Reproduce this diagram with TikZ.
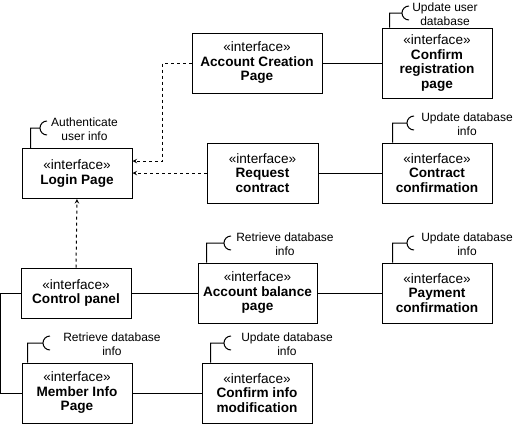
\documentclass[tikz,border=0pt]{standalone}
\usepackage{fontspec}
\setmainfont{Liberation Sans}
\usepackage{tikz}
\usetikzlibrary{arrows,positioning}
\tikzstyle{page} = [rectangle, draw=black, line width=1pt, align=center, minimum width=110pt, minimum height=60pt, inner sep=1pt, font=\fontsize{13.6}{14.5}\selectfont]
\tikzstyle{note} = [align=center, inner sep=0pt, font=\fontsize{12}{14}\selectfont]
\tikzstyle{assoc} = [line width=1pt]
\tikzstyle{dep} = [line width=1pt, dash pattern=on 3pt off 3pt, ->, >=stealth]

\begin{document}
\begin{tikzpicture}[x=1pt, y=-1pt]
	\useasboundingbox (0,0) rectangle (523,424);
	\coordinate (acp) at (257,63);
	\coordinate (confreg) at (437,63);
	\coordinate (login) at (77,173.5);
	\coordinate (request) at (262.5,173);
	\coordinate (contractconf) at (437,173);
	\coordinate (control) at (76,293);
	\coordinate (balance) at (257.5,293);
	\coordinate (payment) at (437,293);
	\coordinate (member) at (77,393);
	\coordinate (confinfo) at (257,393);
	% Pages
	\node[page, name=acp, minimum width=130pt] at (acp) {«interface»\\\textbf{Account Creation}\\\textbf{Page}};
	\node[page, name=confreg, minimum height=70pt] at (confreg) {«interface»\\\textbf{Confirm}\\\textbf{registration}\\\textbf{page}};
	\node[page, name=login, minimum height=50pt] at (login) {«interface»\\\textbf{Login Page}};
	\node[page, name=request, minimum width=111pt] at (request) {«interface»\\\textbf{Request}\\\textbf{contract}};
	\node[page, name=contractconf] at (contractconf) {«interface»\\\textbf{Contract}\\\textbf{confirmation}};
	\node[page, name=control, minimum height=50pt] at (control) {«interface»\\\textbf{Control panel}};
	\node[page, name=balance, minimum width=119pt] at (balance) {«interface»\\\textbf{Account balance}\\\textbf{page}};
	\node[page, name=payment] at (payment) {«interface»\\\textbf{Payment}\\\textbf{confirmation}};
	\node[page, name=member] at (member) {«interface»\\\textbf{Member Info}\\\textbf{Page}};
	\node[page, name=confinfo] at (confinfo) {«interface»\\\textbf{Confirm info}\\\textbf{modification}};
	% Dependencies
	\coordinate (bend) at (162,161);
	\draw [dep] (acp.west) -| (bend) -- (bend -| login.east);
	\draw [dep] (request.west) -- (login.east |- request.west);
	\draw [dep] (control.north) -- (login.south);
	% Associations
	\coordinate (rail) at (0.5,393);
	\draw [assoc] (acp.east) -- (confreg.west |- acp.east);
	\draw [assoc] (request.east) -- (contractconf.west |- request.east);
	\draw [assoc] (control.east) -- (balance.west |- control.east);
	\draw [assoc] (balance.east) -- (payment.west |- balance.east);
	\draw [assoc] (control.west) -| (rail) -- (member.west);
	\draw [assoc] (member.east) -- (confinfo.west);
	% Required interfaces
	\coordinate (sockLogin) at (40,128);
	\coordinate (sockConfreg) at (402,13);
	\coordinate (sockContract) at (407,123);
	\coordinate (sockBalance) at (224,243);
	\coordinate (sockPayment) at (407,243);
	\coordinate (sockMember) at (43,343);
	\coordinate (sockConfinfo) at (224,343);
	\draw [assoc] ([xshift=9pt]login.north west) |- (sockLogin) arc[start angle=180, end angle=90, radius=7] (sockLogin) arc[start angle=180, end angle=270, radius=7];
	\draw [assoc] ([xshift=8pt]confreg.north west) |- (sockConfreg) arc[start angle=180, end angle=90, radius=7] (sockConfreg) arc[start angle=180, end angle=270, radius=7];
	\draw [assoc] ([xshift=11pt]contractconf.north west) |- (sockContract) arc[start angle=180, end angle=90, radius=7] (sockContract) arc[start angle=180, end angle=270, radius=7];
	\draw [assoc] ([xshift=9pt]balance.north west) |- (sockBalance) arc[start angle=180, end angle=90, radius=7] (sockBalance) arc[start angle=180, end angle=270, radius=7];
	\draw [assoc] ([xshift=11pt]payment.north west) |- (sockPayment) arc[start angle=180, end angle=90, radius=7] (sockPayment) arc[start angle=180, end angle=270, radius=7];
	\draw [assoc] ([xshift=6pt]member.north west) |- (sockMember) arc[start angle=180, end angle=90, radius=7] (sockMember) arc[start angle=180, end angle=270, radius=7];
	\draw [assoc] ([xshift=9pt]confinfo.north west) |- (sockConfinfo) arc[start angle=180, end angle=90, radius=7] (sockConfinfo) arc[start angle=180, end angle=270, radius=7];
	% Labels
	\node[note, name=lblLogin] at (84.5,129) {Authenticate\\user info};
	\node[note, name=lblConfreg] at (445,14) {Update user\\database};
	\node[note, name=lblContract] at (467,124) {Update database\\info};
	\node[note, name=lblBalance] at (285,244) {Retrieve database\\info};
	\node[note, name=lblPayment] at (467,244) {Update database\\info};
	\node[note, name=lblMember] at (112,344) {Retrieve database\\info};
	\node[note, name=lblConfinfo] at (287,344) {Update database\\info};
\end{tikzpicture}
\end{document}
